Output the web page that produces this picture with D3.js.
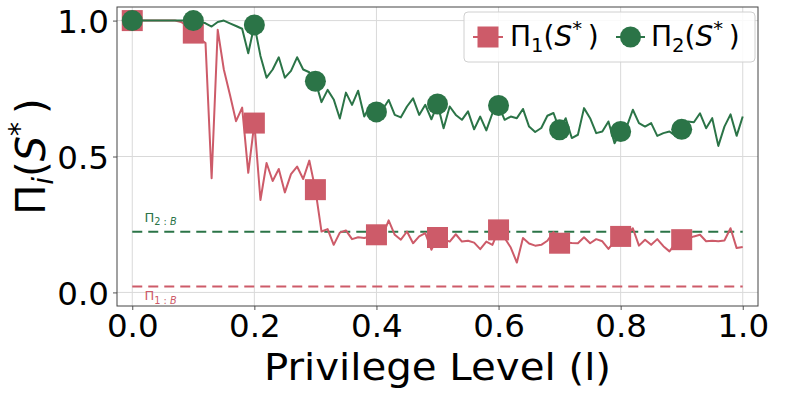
<!DOCTYPE html>
<html><head><meta charset="utf-8">
<script src="https://cdn.jsdelivr.net/npm/d3@7"></script>
<style>body{margin:0;background:#fff} text{font-family:"DejaVu Sans",sans-serif}</style>
</head><body><svg id="c" width="789" height="395"></svg>
<script>
// ---- data ----
const levels = d3.range(0, 101).map(i => i / 100); // privilege levels 0.00 .. 1.00
const pi1 = [1,1,1,1,1,1,1,1,0.995,0.98,0.954,
0.935,0.917,0.42,0.966,0.82,0.727,0.63,0.68,0.44,0.623,
0.34,0.476,0.41,0.454,0.368,0.435,0.463,0.417,0.485,0.378,
0.224,0.233,0.175,0.22,0.228,0.196,0.203,0.20,0.206,0.212,
0.208,0.265,0.212,0.194,0.224,0.181,0.206,0.218,0.157,0.202,
0.196,0.187,0.214,0.187,0.19,0.183,0.159,0.187,0.175,0.23,
0.20,0.165,0.11,0.20,0.18,0.172,0.175,0.19,0.222,0.181,
0.184,0.182,0.181,0.203,0.181,0.196,0.188,0.16,0.188,0.206,
0.21,0.236,0.172,0.194,0.175,0.196,0.17,0.151,0.181,0.194,
0.198,0.206,0.212,0.188,0.19,0.188,0.191,0.236,0.163,0.167];
const pi2 = [1,1,1,1,1,1,1,1,1,1,1,
0.997,0.99,0.978,0.995,1.0,0.99,0.98,0.97,0.88,0.984,
0.87,0.79,0.82,0.865,0.79,0.815,0.865,0.82,0.81,0.777,
0.70,0.745,0.71,0.64,0.735,0.69,0.742,0.647,0.69,0.664,
0.672,0.708,0.653,0.644,0.684,0.714,0.653,0.69,0.637,0.693,
0.604,0.684,0.653,0.635,0.666,0.60,0.647,0.596,0.659,0.688,
0.635,0.647,0.641,0.675,0.61,0.59,0.605,0.65,0.66,0.598,
0.641,0.568,0.58,0.678,0.641,0.586,0.592,0.629,0.549,0.592,
0.61,0.672,0.623,0.61,0.623,0.576,0.586,0.592,0.576,0.60,
0.629,0.626,0.659,0.604,0.641,0.539,0.61,0.655,0.576,0.647];
const baseline1 = 0.022;
const baseline2 = 0.223;
const xTicks = [0, 0.2, 0.4, 0.6, 0.8, 1.0];
const yTicks = [0, 0.5, 1.0];
const markEvery = 10;

// ---- style ----
const RED = "#cd5b69", GREEN = "#2b7447";
const svg = d3.select("#c");
const L = 117, R = 758, T = 7, B = 306;
const x = d3.scaleLinear().domain([-0.025, 1.025]).range([L, R]);
const y = d3.scaleLinear().domain([-0.05, 1.05]).range([B, T]);

// grid
const g = svg.append("g");
g.selectAll(".vg").data(xTicks).join("line")
  .attr("x1", d => x(d)).attr("x2", d => x(d)).attr("y1", T).attr("y2", B)
  .attr("stroke", "#d9d9d9").attr("stroke-width", 1);
g.selectAll(".hg").data(yTicks).join("line")
  .attr("y1", d => y(d)).attr("y2", d => y(d)).attr("x1", L).attr("x2", R)
  .attr("stroke", "#d9d9d9").attr("stroke-width", 1);

// axes
const xa = svg.append("g").attr("transform", `translate(0,${B})`)
  .call(d3.axisBottom(x).tickValues(xTicks).tickFormat(d3.format(".1f")).tickSize(4).tickPadding(4));
const ya = svg.append("g").attr("transform", `translate(${L},0)`)
  .call(d3.axisLeft(y).tickValues(yTicks).tickFormat(d3.format(".1f")).tickSize(4).tickPadding(4));
[xa, ya].forEach(a => {
  a.select(".domain").remove();
  a.selectAll(".tick line").attr("stroke", "#555");
  a.selectAll(".tick text").attr("font-size", 32.5).attr("fill", "#000")
    .attr("font-family", '"DejaVu Sans",sans-serif');
});
ya.selectAll(".tick text").attr("dy", "0.36em");

// frame
svg.append("rect").attr("x", L).attr("y", T).attr("width", R - L).attr("height", B - T)
  .attr("fill", "none").attr("stroke", "#444").attr("stroke-width", 1);

// baselines
[[baseline2, GREEN], [baseline1, RED]].forEach(([v, c]) => {
  svg.append("line").attr("x1", x(0)).attr("x2", x(1)).attr("y1", y(v)).attr("y2", y(v))
    .attr("stroke", c).attr("stroke-width", 2).attr("stroke-dasharray", "10,6");
});

function addMath(t, segs, fs) {
  let cur = 0;
  segs.forEach(s => {
    const size = s.size ? fs * s.size : fs;
    const off = s.off ? s.off * fs : 0;
    const ts = t.append("tspan").attr("font-size", size)
      .attr("font-style", s.it ? "italic" : "normal")
      .attr("dy", off - cur).text(s.t);
    if (s.dx) ts.attr("dx", s.dx * fs);
    cur = off;
  });
}
// baseline annotations
addMath(svg.append("text").attr("x", x(0.02)).attr("y", y(baseline2) - 10).attr("fill", GREEN),
  [{t: "Π"}, {t: "2 : ", size: 0.75, off: 0.25}, {t: "B", size: 0.75, off: 0.25, it: true}], 13);
addMath(svg.append("text").attr("x", x(0.02)).attr("y", y(baseline1) + 14).attr("fill", RED),
  [{t: "Π"}, {t: "1 : ", size: 0.75, off: 0.25}, {t: "B", size: 0.75, off: 0.25, it: true}], 13);

// lines
const line = d3.line().x((d, i) => x(levels[i])).y(d => y(d));
svg.append("path").datum(pi1).attr("d", line).attr("fill", "none").attr("stroke", RED).attr("stroke-width", 2).attr("stroke-linejoin", "round");
const sq = 21;
svg.selectAll(".sq").data(pi1.map((v, i) => [levels[i], v]).filter((d, i) => i % markEvery === 0 && i < 100))
  .join("rect").attr("x", d => x(d[0]) - sq / 2).attr("y", d => y(d[1]) - sq / 2)
  .attr("width", sq).attr("height", sq).attr("fill", RED);
svg.append("path").datum(pi2).attr("d", line).attr("fill", "none").attr("stroke", GREEN).attr("stroke-width", 2).attr("stroke-linejoin", "round");
svg.selectAll(".ci").data(pi2.map((v, i) => [levels[i], v]).filter((d, i) => i % markEvery === 0 && i < 100))
  .join("circle").attr("cx", d => x(d[0])).attr("cy", d => y(d[1])).attr("r", 10.5).attr("fill", GREEN);

// legend
const lg = svg.append("g");
lg.append("rect").attr("x", 464).attr("y", 12).attr("width", 291).attr("height", 50).attr("rx", 4)
  .attr("fill", "#fff").attr("fill-opacity", 0.85).attr("stroke", "#d0d0d0");
const ly = 37;
lg.append("line").attr("x1", 473).attr("x2", 503).attr("y1", ly).attr("y2", ly).attr("stroke", RED).attr("stroke-width", 2);
lg.append("rect").attr("x", 488 - sq / 2).attr("y", ly - sq / 2).attr("width", sq).attr("height", sq).attr("fill", RED);
addMath(lg.append("text").attr("x", 510).attr("y", ly + 9),
  [{t: "Π"}, {t: "1", size: 0.7, off: 0.2}, {t: "(", off: 0}, {t: "S", it: true}, {t: "*", size: 0.7, off: -0.4}, {t: ")", off: 0, dx: 0.2}], 28);
lg.append("line").attr("x1", 616).attr("x2", 645).attr("y1", ly).attr("y2", ly).attr("stroke", GREEN).attr("stroke-width", 2);
lg.append("circle").attr("cx", 630.5).attr("cy", ly).attr("r", 10.5).attr("fill", GREEN);
addMath(lg.append("text").attr("x", 651).attr("y", ly + 9),
  [{t: "Π"}, {t: "2", size: 0.7, off: 0.2}, {t: "(", off: 0}, {t: "S", it: true}, {t: "*", size: 0.7, off: -0.4}, {t: ")", off: 0, dx: 0.2}], 28);

// axis titles
svg.append("text").attr("transform", `translate(${(L + R) / 2},380) scale(1.06,1)`).attr("text-anchor", "middle")
  .attr("font-size", 38).text("Privilege Level (l)");
const yl = svg.append("text").attr("transform", `translate(45,${(T + B) / 2}) rotate(-90)`).attr("text-anchor", "middle");
addMath(yl, [{t: "Π"}, {t: "i", size: 0.7, off: 0.2, it: true}, {t: "(", off: 0}, {t: "S", it: true}, {t: "*", size: 0.7, off: -0.4}, {t: ")", off: 0, dx: 0.2}], 40);
</script></body></html>
